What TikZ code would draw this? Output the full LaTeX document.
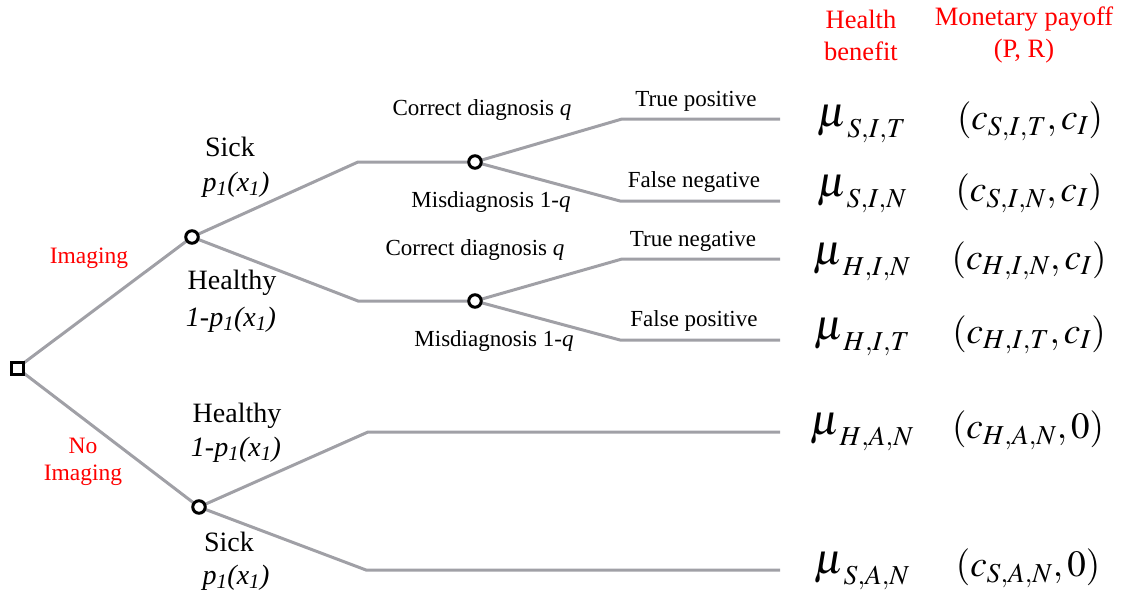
\documentclass[tikz,border=0pt]{standalone}
\usepackage{mathptmx}
\usepackage{fontspec}
\setmainfont{Liberation Serif}
\usepackage{xcolor}
\definecolor{cBranch}{HTML}{A0A0A6}
\definecolor{cHead}{HTML}{FF0000}
\usetikzlibrary{positioning,backgrounds}
\newcommand{\bigmu}{\hbox{\fontsize{43}{43}\selectfont$\mu$}}
\tikzset{
  node-decision/.style={draw=black,line width=3pt,rectangle,fill=white,
    minimum size=12pt,inner sep=0pt},
  node-chance/.style={draw=black,line width=3pt,circle,fill=white,
    minimum size=12.5pt,inner sep=0pt},
  branch/.style={draw=cBranch,line width=3pt},
  lbl-state/.style={font=\fontsize{28}{30}\selectfont},
  lbl-diag/.style={font=\fontsize{23}{26}\selectfont},
  lbl-act/.style={text=cHead,font=\fontsize{23.5}{27}\selectfont,align=center},
  lbl-head/.style={text=cHead,font=\fontsize{26.5}{32}\selectfont,align=center},
  lbl-pay/.style={font=\fontsize{37}{40}\selectfont,inner sep=1pt},
}

\begin{document}
\begin{tikzpicture}[x=1pt,y=-1pt]
  \useasboundingbox (0,0) rectangle (1125,597);
  % decision and chance nodes
  \node[node-decision] (root) at (17,368) {};
  \node[node-chance] (img) at (192,237) {};
  \node[node-chance] (noimg) at (199,507) {};
  \node[node-chance] (sickI) at (475,162) {};
  \node[node-chance] (healthyI) at (475,301) {};
  % elbows and leaves
  \coordinate (sickK) at (358,162);
  \coordinate (healthyK) at (358,301);
  \coordinate (healthyAK) at (368,432);
  \coordinate (sickAK) at (366,570);
  \foreach \name/\x/\y in {TP/622/119, FN/620/201, TN/622/259, FP/620/340} {
    \coordinate (\name K) at (\x,\y);
    \coordinate (\name) at (780,\y);
  }
  \coordinate (HA) at (780,432);
  \coordinate (SA) at (780,570);
  % branches
  \begin{scope}[on background layer]
    \draw[branch] (root.center) -- (img.center);
    \draw[branch] (root.center) -- (noimg.center);
    \draw[branch] (img.center) -- (sickK) -- (sickI.center);
    \draw[branch] (img.center) -- (healthyK) -- (healthyI.center);
    \draw[branch] (sickI.center) -- (TPK) -- (TP);
    \draw[branch] (sickI.center) -- (FNK) -- (FN);
    \draw[branch] (healthyI.center) -- (TNK) -- (TN);
    \draw[branch] (healthyI.center) -- (FPK) -- (FP);
    \draw[branch] (noimg.center) -- (healthyAK) -- (HA);
    \draw[branch] (noimg.center) -- (sickAK) -- (SA);
  \end{scope}
  % actions
  \node[lbl-act] (actI) at (89,258) {Imaging};
  \node[lbl-act] (actN) at (83,462) {No\\Imaging};
  % states
  \node[lbl-state] (s1) at (230,147) {Sick};
  \node[lbl-state] (s1p) at (236,185) {\textit{p\textsubscript{1}(x\textsubscript{1})}};
  \node[lbl-state] (h1) at (232,283) {Healthy};
  \node[lbl-state] (h1p) at (231,320) {\textit{1-p\textsubscript{1}(x\textsubscript{1})}};
  \node[lbl-state] (h2) at (237,416) {Healthy};
  \node[lbl-state] (h2p) at (236,450) {\textit{1-p\textsubscript{1}(x\textsubscript{1})}};
  \node[lbl-state] (s2) at (229,542) {Sick};
  \node[lbl-state] (s2p) at (236,578) {\textit{p\textsubscript{1}(x\textsubscript{1})}};
  % diagnoses
  \node[lbl-diag] (cd1) at (482,110) {Correct diagnosis \textit{q}};
  \node[lbl-diag] (md1) at (491,202) {Misdiagnosis 1-\textit{q}};
  \node[lbl-diag] (cd2) at (475,250) {Correct diagnosis \textit{q}};
  \node[lbl-diag] (md2) at (494,341) {Misdiagnosis 1-\textit{q}};
  % outcomes
  \node[lbl-diag] (oTP) at (696,101) {True positive};
  \node[lbl-diag] (oFN) at (694,182) {False negative};
  \node[lbl-diag] (oTN) at (693,241) {True negative};
  \node[lbl-diag] (oFP) at (694,321) {False positive};
  % payoff columns
  \node[lbl-head] (hHB) at (861,35) {Health\\benefit};
  \node[lbl-head] (hMP) at (1024,35) {Monetary payoff\\(P, R)};
  \node[lbl-pay] (mu1) at (862,124) {$\bigmu_{S,I,T}$};
  \node[lbl-pay] (mu2) at (862,194) {$\bigmu_{S,I,N}$};
  \node[lbl-pay] (mu3) at (862,262) {$\bigmu_{H,I,N}$};
  \node[lbl-pay] (mu4) at (862,337) {$\bigmu_{H,I,T}$};
  \node[lbl-pay] (mu5) at (862,432) {$\bigmu_{H,A,N}$};
  \node[lbl-pay] (mu6) at (862,571) {$\bigmu_{S,A,N}$};
  \node[lbl-pay] (c1) at (1030,121) {$(c_{S,I,T},c_I)$};
  \node[lbl-pay] (c2) at (1029,193) {$(c_{S,I,N},c_I)$};
  \node[lbl-pay] (c3) at (1029,261) {$(c_{H,I,N},c_I)$};
  \node[lbl-pay] (c4) at (1029,335) {$(c_{H,I,T},c_I)$};
  \node[lbl-pay] (c5) at (1028,430) {$(c_{H,A,N},0)$};
  \node[lbl-pay] (c6) at (1028,568) {$(c_{S,A,N},0)$};
\end{tikzpicture}
\end{document}
